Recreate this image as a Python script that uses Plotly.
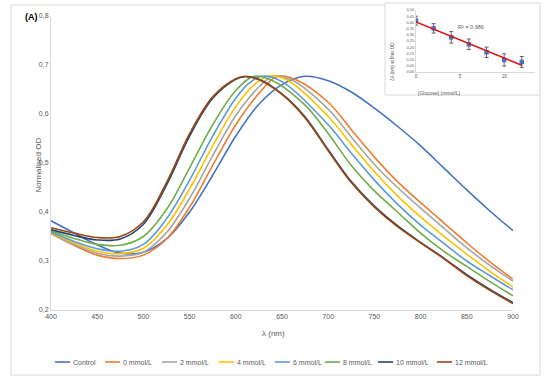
import plotly.graph_objects as go
import numpy as np

# ---------------- main chart data ----------------
series_names = ["Control", "0 mmol/L", "2 mmol/L", "4 mmol/L", "6 mmol/L",
                "8 mmol/L", "10 mmol/L", "12 mmol/L"]
series_colors = ["#4472C4", "#ED7D31", "#A5A5A5", "#FFC000", "#5B9BD5",
                 "#70AD47", "#264478", "#9E480E"]

wl_control = [400, 425, 450, 475, 500, 525, 550, 575, 600, 625, 650, 675, 700, 725, 750, 775, 800, 825, 850, 875, 900]
od_control = [0.382, 0.357, 0.333, 0.316, 0.318, 0.345, 0.400, 0.475, 0.555, 0.620, 0.660, 0.677, 0.668, 0.645, 0.612, 0.575, 0.535, 0.490, 0.445, 0.402, 0.362]

wl_0 = [400, 425, 450, 475, 500, 525, 550, 575, 600, 625, 645, 665, 700, 725, 750, 775, 800, 825, 850, 875, 900]
od_0 = [0.356, 0.332, 0.312, 0.305, 0.312, 0.345, 0.410, 0.495, 0.578, 0.642, 0.677, 0.670, 0.624, 0.568, 0.512, 0.462, 0.419, 0.378, 0.337, 0.298, 0.263]

wl_2 = [400, 425, 450, 475, 500, 525, 550, 575, 600, 625, 640, 660, 700, 725, 750, 775, 800, 825, 850, 875, 900]
od_2 = [0.357, 0.334, 0.316, 0.310, 0.318, 0.358, 0.428, 0.515, 0.597, 0.655, 0.677, 0.670, 0.610, 0.553, 0.497, 0.450, 0.408, 0.367, 0.327, 0.291, 0.259]

wl_4 = [400, 425, 450, 475, 500, 525, 550, 575, 600, 620, 635, 655, 700, 725, 750, 775, 800, 825, 850, 875, 900]
od_4 = [0.358, 0.337, 0.320, 0.315, 0.326, 0.372, 0.447, 0.535, 0.615, 0.660, 0.677, 0.670, 0.595, 0.538, 0.482, 0.433, 0.390, 0.351, 0.314, 0.279, 0.247]

wl_6 = [400, 425, 450, 475, 500, 525, 550, 575, 600, 615, 628, 650, 700, 725, 750, 775, 800, 825, 850, 875, 900]
od_6 = [0.359, 0.340, 0.325, 0.320, 0.334, 0.386, 0.465, 0.555, 0.632, 0.664, 0.677, 0.666, 0.578, 0.520, 0.465, 0.416, 0.373, 0.336, 0.300, 0.270, 0.241]

wl_8 = [400, 425, 450, 475, 500, 525, 550, 575, 600, 620, 640, 675, 700, 725, 750, 775, 800, 825, 850, 875, 900]
od_8 = [0.361, 0.346, 0.334, 0.332, 0.350, 0.405, 0.490, 0.578, 0.648, 0.677, 0.668, 0.618, 0.560, 0.495, 0.443, 0.400, 0.357, 0.320, 0.289, 0.258, 0.229]

wl_10 = [400, 425, 450, 475, 500, 525, 550, 575, 600, 610, 625, 650, 675, 700, 725, 750, 775, 800, 825, 850, 875, 900]
od_10 = [0.364, 0.352, 0.343, 0.345, 0.375, 0.455, 0.555, 0.632, 0.671, 0.676, 0.671, 0.641, 0.594, 0.527, 0.462, 0.412, 0.372, 0.338, 0.306, 0.272, 0.242, 0.215]

wl_12 = [400, 425, 450, 475, 500, 525, 550, 575, 600, 610, 625, 650, 675, 700, 725, 750, 775, 800, 825, 850, 875, 900]
od_12 = [0.368, 0.357, 0.348, 0.350, 0.380, 0.460, 0.560, 0.635, 0.672, 0.677, 0.670, 0.640, 0.592, 0.525, 0.460, 0.410, 0.370, 0.337, 0.305, 0.270, 0.240, 0.213]

x_ticks = [400, 450, 500, 550, 600, 650, 700, 750, 800, 850, 900]
y_ticks = [0.2, 0.3, 0.4, 0.5, 0.6, 0.7, 0.8]

# ---------------- inset data ----------------
glucose = [0, 2, 4, 6, 8, 10, 12]
delta_lambda = [0.414, 0.352, 0.280, 0.223, 0.159, 0.097, 0.081]
delta_err = [0.036, 0.038, 0.047, 0.043, 0.042, 0.050, 0.044]
r2_label = "R² = 0,986"

all_wl = [wl_control, wl_0, wl_2, wl_4, wl_6, wl_8, wl_10, wl_12]
all_od = [od_control, od_0, od_2, od_4, od_6, od_8, od_10, od_12]

W, H = 550, 379
def px(x):
    return x / W
def py(y):
    return (H - y) / H

FONT = "Liberation Sans"
TXT = "#595959"
AX = "#D9D9D9"

fig = go.Figure()
for name, col, wl, od in zip(series_names, series_colors, all_wl, all_od):
    fig.add_trace(go.Scatter(x=wl, y=od, mode="lines", name=name, showlegend=False,
                             line=dict(color=col, width=1.6, shape="spline", smoothing=1.0),
                             xaxis="x", yaxis="y"))

# inset
slope, intercept = np.polyfit(glucose, delta_lambda, 1)
fit_x = [min(glucose), max(glucose)]
fit_y = [intercept + slope * v for v in fit_x]
fig.add_trace(go.Scatter(x=glucose, y=delta_lambda, mode="markers", showlegend=False,
                         marker=dict(color="#4472C4", size=4.5, symbol="square"),
                         error_y=dict(type="data", array=delta_err, visible=True,
                                      color="#404040", thickness=0.8, width=2),
                         xaxis="x2", yaxis="y2"))
fig.add_trace(go.Scatter(x=fit_x, y=fit_y, mode="lines", showlegend=False,
                         line=dict(color="#D9161A", width=1.6),
                         xaxis="x2", yaxis="y2"))

# legend (drawn as a compact Excel-style row: short line + label)
legend_x = [55, 105, 162, 219, 275, 325, 378, 437]   # left end of each key line, px
legend_y = 362
shapes = [
    dict(type="rect", xref="paper", yref="paper", x0=px(11), x1=px(540), y0=py(375), y1=py(5),
         line=dict(color=AX, width=1), fillcolor="rgba(0,0,0,0)", layer="below"),
    dict(type="rect", xref="paper", yref="paper", x0=px(385), x1=px(540), y0=py(95), y1=py(3),
         line=dict(color=AX, width=1), fillcolor="white", layer="below"),
]
annotations = [
    dict(text="<b>(A)</b>", x=px(23), y=py(17), xref="paper", yref="paper", showarrow=False,
         yanchor="middle", font=dict(size=9, color="black", family=FONT)),
    dict(text="Normalised OD", x=px(31), y=py(165), xref="paper", yref="paper", showarrow=False,
         textangle=-90, font=dict(size=8, color=TXT)),
    dict(text="λ (nm)", x=px(273), y=py(340), xref="paper", yref="paper", showarrow=False,
         font=dict(size=8, color=TXT)),
    dict(text=r2_label, x=px(486), y=py(22), xref="paper", yref="paper", showarrow=False,
         font=dict(size=5.5, color=TXT)),
    dict(text="[Glucose] (mmol/L)", x=px(463), y=py(88), xref="paper", yref="paper", showarrow=False,
         font=dict(size=5, color=TXT)),
    dict(text="Δλ (nm) at Max OD", x=px(397), y=py(40), xref="paper", yref="paper", showarrow=False,
         textangle=-90, font=dict(size=4.5, color=TXT)),
]
for name, col, lx in zip(series_names, series_colors, legend_x):
    shapes.append(dict(type="line", xref="paper", yref="paper", x0=px(lx), x1=px(lx + 15),
                       y0=py(legend_y), y1=py(legend_y), line=dict(color=col, width=1.6)))
    annotations.append(dict(text=name, x=px(lx + 16), y=py(legend_y), xref="paper", yref="paper",
                            xanchor="left", yanchor="middle", showarrow=False,
                            font=dict(size=7, color=TXT)))

fig.update_layout(
    width=W, height=H,
    margin=dict(l=0, r=0, t=0, b=0, autoexpand=False),
    paper_bgcolor="white", plot_bgcolor="rgba(0,0,0,0)",
    separators=", ",
    showlegend=False,
    hovermode=False,
    font=dict(family=FONT, color=TXT, size=7),
    xaxis=dict(domain=[px(51), px(513)], range=[400, 900], tickvals=x_ticks, automargin=False,
               showgrid=False, zeroline=False, showline=True, linecolor=AX, linewidth=1,
               ticks="", tickfont=dict(size=7, color=TXT), anchor="y"),
    yaxis=dict(domain=[py(310), py(16)], range=[0.2, 0.8], tickvals=y_ticks, tickformat=".1f",
               automargin=False,
               showgrid=False, zeroline=False, showline=True, linecolor=AX, linewidth=1,
               ticks="", tickfont=dict(size=7, color=TXT), anchor="x"),
    xaxis2=dict(domain=[px(416), px(535)], range=[0, 13.5], tickvals=[0, 5, 10], automargin=False,
                showgrid=False, zeroline=False, showline=True, linecolor=AX, linewidth=0.8,
                ticks="", tickfont=dict(size=4.5, color=TXT), anchor="y2"),
    yaxis2=dict(domain=[py(72), py(10)], range=[0, 0.5], dtick=0.05, tickformat=".2f",
                automargin=False,
                showgrid=False, zeroline=False, showline=True, linecolor=AX, linewidth=0.8,
                ticks="", tickfont=dict(size=4, color=TXT), anchor="x2"),
    shapes=shapes,
    annotations=annotations,
)

fig.write_html("out.html", config={"displayModeBar": False},
               post_script="document.body.style.margin='0';")
